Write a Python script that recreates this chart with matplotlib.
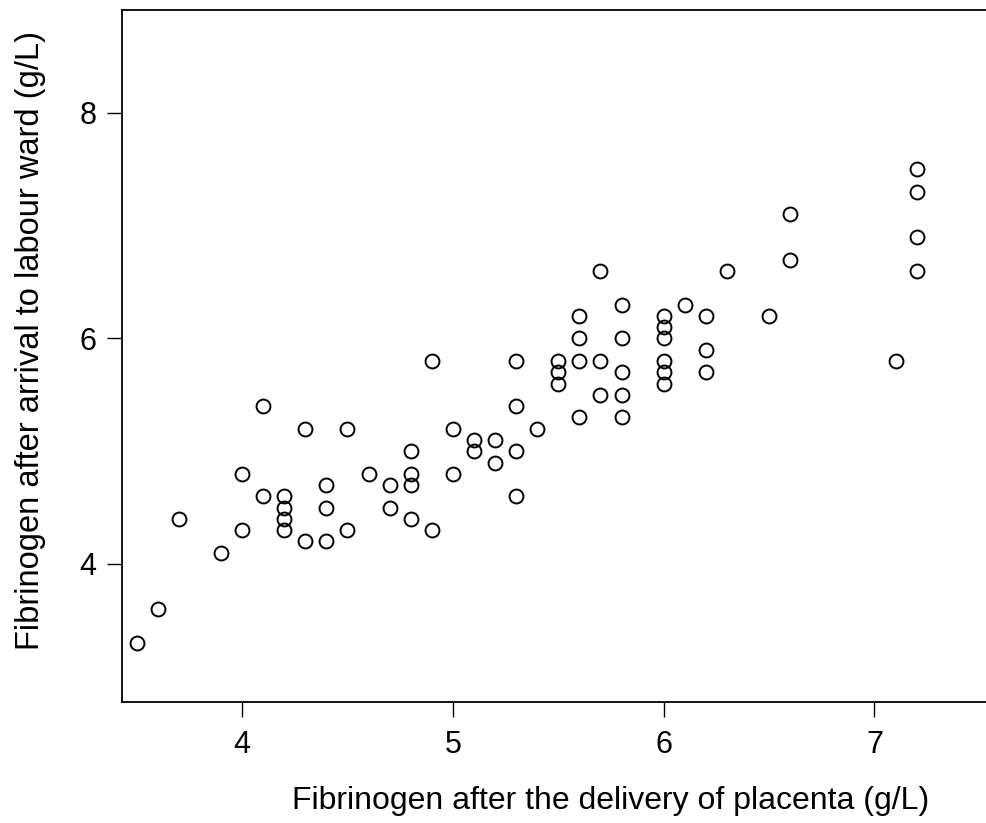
import matplotlib.pyplot as plt

plt.rcParams['font.family'] = ['Liberation Sans', 'DejaVu Sans']

# Fibrinogen after placenta delivery (x) vs after arrival to labour ward (y), g/L
placenta = [3.5, 3.6, 3.7, 3.9, 4.0, 4.0, 4.1, 4.1, 4.2, 4.2, 4.2, 4.2,
            4.3, 4.3, 4.4, 4.4, 4.4, 4.5, 4.5, 4.6, 4.7, 4.7,
            4.8, 4.8, 4.8, 4.8, 4.9, 4.9, 5.0, 5.0, 5.1, 5.1, 5.2, 5.2,
            5.3, 5.3, 5.3, 5.3, 5.4, 5.5, 5.5, 5.5,
            5.6, 5.6, 5.6, 5.6, 5.7, 5.7, 5.7,
            5.8, 5.8, 5.8, 5.8, 5.8,
            6.0, 6.0, 6.0, 6.0, 6.0, 6.0, 6.1, 6.2, 6.2, 6.2,
            6.3, 6.5, 6.6, 6.6, 7.1, 7.2, 7.2, 7.2, 7.2]
arrival = [3.3, 3.6, 4.4, 4.1, 4.8, 4.3, 5.4, 4.6, 4.6, 4.5, 4.4, 4.3,
           5.2, 4.2, 4.7, 4.5, 4.2, 5.2, 4.3, 4.8, 4.7, 4.5,
           5.0, 4.8, 4.7, 4.4, 5.8, 4.3, 5.2, 4.8, 5.1, 5.0, 5.1, 4.9,
           5.8, 5.4, 5.0, 4.6, 5.2, 5.8, 5.7, 5.6,
           6.2, 6.0, 5.8, 5.3, 6.6, 5.8, 5.5,
           6.3, 6.0, 5.7, 5.5, 5.3,
           6.2, 6.1, 6.0, 5.8, 5.7, 5.6, 6.3, 6.2, 5.9, 5.7,
           6.6, 6.2, 7.1, 6.7, 5.8, 7.5, 7.3, 6.9, 6.6]

x_ticks = [4, 5, 6, 7]
y_ticks = [4, 6, 8]

fig = plt.figure(figsize=(9.86, 8.23), dpi=100)
# plot box runs past the right edge of the figure
ax = fig.add_axes([0.1237, 0.147, 0.992, 0.841])

ax.plot(placenta, arrival, linestyle='none', marker='o', markersize=10,
        markerfacecolor='none', markeredgecolor='black', markeredgewidth=1.4)

ax.set_xlim(3.4305, 8.07)
ax.set_ylim(2.776, 8.914)
ax.set_xticks(x_ticks)
ax.set_yticks(y_ticks)
ax.tick_params(direction='out', length=10.5, width=1, labelsize=22, pad=8)
ax.tick_params(axis='x', pad=10)
for s in ax.spines.values():
    s.set_linewidth(1.3)

ax.set_xlabel('Fibrinogen after the delivery of placenta (g/L)', fontsize=23)
ax.set_ylabel('Fibrinogen after arrival to labour ward (g/L)', fontsize=23.5)
ax.xaxis.set_label_coords(0.5, -0.121)
ax.yaxis.set_label_coords(-0.078, 0.523)

fig.savefig('out.png', dpi=100)
